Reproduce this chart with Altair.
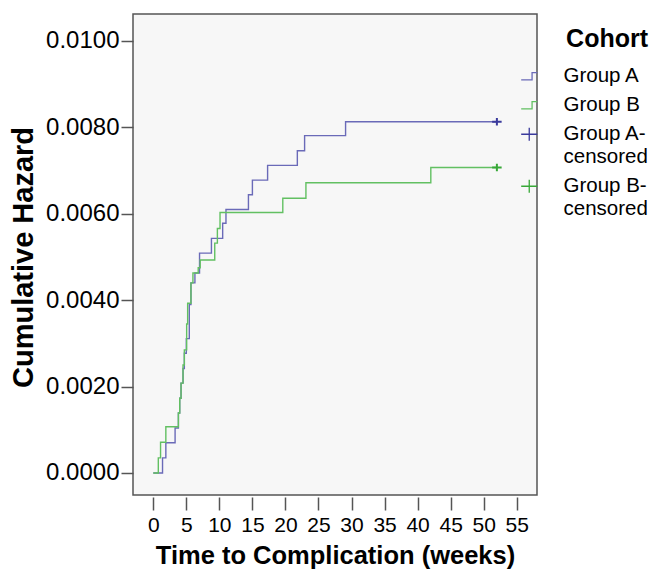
import altair as alt
import pandas as pd

# ---- data ----
cohorts = ["Group A", "Group B", "Group A-|censored", "Group B-|censored"]

a_weeks = [0, 1.4, 1.9, 3.3, 3.8, 4.0, 4.2, 4.5, 4.7, 5.0, 5.45, 5.7, 6.3, 7.0,
           8.8, 10.5, 11.0, 14.4, 15.0, 17.3, 21.8, 22.9, 29.1, 52.0]
a_hazard = [0, 0.00035, 0.00070, 0.00104, 0.00139, 0.00173, 0.00208, 0.00242,
            0.00277, 0.00311, 0.00390, 0.00440, 0.00463, 0.00509, 0.00543,
            0.00578, 0.00610, 0.00644, 0.00678, 0.00712, 0.00746, 0.00781,
            0.00813, 0.00813]

b_weeks = [0, 0.76, 1.1, 1.9, 3.8, 4.0, 4.2, 4.5, 4.7, 5.05, 5.2, 5.7, 6.0,
           6.8, 7.1, 9.3, 9.7, 10.1, 19.6, 23.1, 42.0, 52.0]
b_hazard = [0, 0.00035, 0.00071, 0.00107, 0.00139, 0.00173, 0.00208, 0.00250,
            0.00285, 0.00345, 0.00393, 0.00440, 0.00463, 0.00475, 0.00493,
            0.00532, 0.00566, 0.00603, 0.00636, 0.00672, 0.00707, 0.00707]

cens_weeks = [52.0, 52.0]
cens_hazard = [0.00813, 0.00707]

x_ticks = [0, 5, 10, 15, 20, 25, 30, 35, 40, 45, 50, 55]
y_ticks = [0.0, 0.002, 0.004, 0.006, 0.008, 0.010]

colors = ["#6a6ab8", "#62c062", "#3a3a9c", "#38a838"]
shapes = ["M-1,0.45H0.35V-0.45H1", "M-1,0.45H0.35V-0.45H1",
          "M-1,0H1M0,-0.8V0.8", "M-1,0H1M0,-0.8V0.8"]

lines_df = pd.DataFrame({
    "week": a_weeks + b_weeks,
    "hazard": a_hazard + b_hazard,
    "Cohort": ["Group A"] * len(a_weeks) + ["Group B"] * len(b_weeks),
})
cens_df = pd.DataFrame({
    "week": cens_weeks,
    "hazard": cens_hazard,
    "Cohort": ["Group A-|censored", "Group B-|censored"],
})

x_axis = alt.Axis(values=x_ticks, title="Time to Complication (weeks)",
                  offset=2, tickSize=13, labelPadding=4,
                  labelOverlap=False, labelFlush=False,
                  labelFontSize=21, titleFontSize=25.5, titlePadding=8)
y_axis = alt.Axis(values=y_ticks, format=".4f", title="Cumulative Hazard",
                  tickSize=12, labelPadding=2, labelFontSize=24,
                  labelOverlap=False,
                  titleFontSize=29, titleX=-110, titleY=243,
                  titleBaseline="middle")
x_scale = alt.Scale(domain=[-3.07, 58.07], nice=False, zero=False)
y_scale = alt.Scale(domain=[-0.00051, 0.010625], nice=False, zero=False)

x_enc = alt.X("week:Q", scale=x_scale, axis=x_axis)
y_enc = alt.Y("hazard:Q", scale=y_scale, axis=y_axis)

color_scale = alt.Scale(domain=cohorts, range=colors)
shape_scale = alt.Scale(domain=cohorts, range=shapes)

legend = alt.Legend(
    title="Cohort", orient="none", legendX=386, legendY=13,
    titleFontSize=25, titleFontWeight="bold", titleColor="black",
    titleAnchor="end", titlePadding=14,
    labelFontSize=20.5, labelColor="black", labelLimit=200,
    labelExpr="split(datum.label, '|')",
    symbolSize=260, symbolStrokeWidth=1.3, rowPadding=8, labelOffset=24,
)

line_layer = alt.Chart(lines_df).mark_line(
    interpolate="step-after", strokeWidth=1.4
).encode(
    x=x_enc, y=y_enc,
    color=alt.Color("Cohort:N", scale=color_scale, legend=legend),
)

cens_layer = alt.Chart(cens_df).mark_point(
    filled=False, size=90, strokeWidth=2, opacity=1
).encode(
    x=x_enc, y=y_enc,
    color=alt.Color("Cohort:N", scale=color_scale, legend=legend),
    shape=alt.Shape("Cohort:N", scale=shape_scale, legend=legend),
)

chart = alt.layer(line_layer, cens_layer).properties(
    width=404, height=481,
    autosize=alt.AutoSizeParams(type="none"),
    padding={"left": 125, "top": 6, "right": 120, "bottom": 85},
    background="white",
).configure_view(
    fill="#f7f7f7", stroke="#555555", strokeWidth=1.5
).configure_axis(
    domain=False, grid=False, tickColor="#555555", tickWidth=1.5,
    labelColor="black", titleColor="black",
    labelFont="Liberation Sans", titleFont="Liberation Sans",
    titleFontWeight="bold",
).configure_legend(
    labelFont="Liberation Sans", titleFont="Liberation Sans",
)

chart.save("out.html", embed_options={"renderer": "svg", "actions": False})
